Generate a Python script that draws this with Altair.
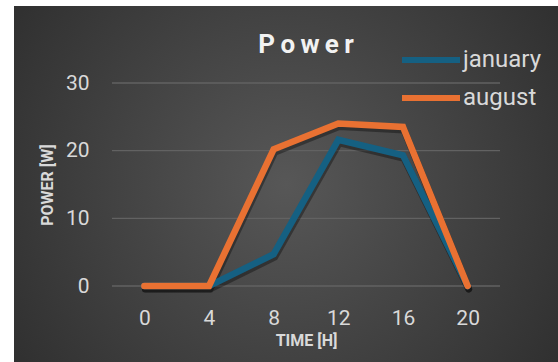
import altair as alt
import pandas as pd

# Hourly power readings for two months
hours = [0, 4, 8, 12, 16, 20]
january = [0, 0, 4.7, 21.6, 19.3, 0]
august = [0, 0, 20.2, 24.0, 23.5, 0]
series = ["january", "august"]
colors = ["#156082", "#E97132"]
y_ticks = [0, 10, 20, 30]

rows = []
for name, vals in zip(series, [january, august]):
    for h, v in zip(hours, vals):
        rows.append({"hour": h, "power": v, "series": name})
df = pd.DataFrame(rows)
grid_df = pd.DataFrame({"power": y_ticks})

PLOT_W, PLOT_H = 388, 203
PAD = {"left": 112, "top": 83, "right": 58, "bottom": 76}

x_enc = alt.X(
    "hour:Q",
    scale=alt.Scale(domain=[-2, 22], nice=False, zero=False),
    axis=alt.Axis(values=hours, title="TIME [H]", grid=False, domain=False,
                  ticks=False, labelPadding=21, labelBaseline="top",
                  titleY=54, titleBaseline="middle", zindex=1),
)
y_enc = alt.Y(
    "power:Q",
    scale=alt.Scale(domain=[0, 30], nice=False),
    axis=alt.Axis(values=y_ticks, title="POWER [W]", grid=False, domain=False,
                  ticks=False, labelPadding=23, titleX=-65, titleY=PLOT_H / 2,
                  titleBaseline="middle", titleAngle=-90, zindex=1),
)

# dark radial backdrop behind the whole chart
bg = alt.Chart(alt.Data(values=[{}])).mark_rect(
    color=alt.Gradient(
        gradient="radial",
        stops=[alt.GradientStop(offset=0, color="#575757"),
               alt.GradientStop(offset=1, color="#262626")],
        x1=0.5, y1=0.5, r1=0, x2=0.5, y2=0.5, r2=0.75,
    )
).encode(
    x=alt.value(14 - PAD["left"]), x2=alt.value(558 - PAD["left"]),
    y=alt.value(6 - PAD["top"]), y2=alt.value(362 - PAD["top"]),
)

grid = alt.Chart(grid_df).mark_rule(color="#626262", strokeWidth=1.3).encode(y=y_enc)

shadow = alt.Chart(df).mark_line(
    color="black", opacity=0.35, strokeWidth=7, xOffset=1, yOffset=3,
    strokeCap="round", strokeJoin="miter",
).encode(x=x_enc, y=y_enc, detail="series:N")

lines = alt.Chart(df).mark_line(
    strokeWidth=6.5, strokeCap="round", strokeJoin="miter",
).encode(
    x=x_enc,
    y=y_enc,
    color=alt.Color(
        "series:N",
        scale=alt.Scale(domain=series, range=colors),
        sort=series,
        legend=alt.Legend(
            orient="none", legendX=287, legendY=-34, title=None,
            symbolType="stroke", symbolStrokeWidth=6, symbolSize=3364,
            clipHeight=22, rowPadding=14, labelOffset=0, padding=0,
            labelFontSize=24, labelColor="#d9d9d9", labelFont="Roboto",
        ),
    ),
    order=alt.Order("order:Q"),
).transform_calculate(order="datum.series == 'january' ? 0 : 1")

chart = alt.layer(bg, grid, shadow, lines).properties(
    width=PLOT_W,
    height=PLOT_H,
    padding=PAD,
    autosize=alt.AutoSizeParams(type="none"),
    background="white",
    title=alt.TitleParams(
        "P\u2009o\u2009w\u2009e\u2009r",
        anchor="middle", frame="group", baseline="alphabetic",
        offset=-73, font="Roboto", fontSize=26, fontWeight="bold",
        color="#f2f2f2",
    ),
).configure_view(stroke=None).configure_axis(
    labelFont="Roboto", labelFontSize=21, labelColor="#d9d9d9",
    titleFont="Roboto", titleFontSize=16, titleFontWeight="bold",
    titleColor="#d9d9d9",
)

chart.save("out.html", embed_options={"renderer": "svg", "actions": False})
